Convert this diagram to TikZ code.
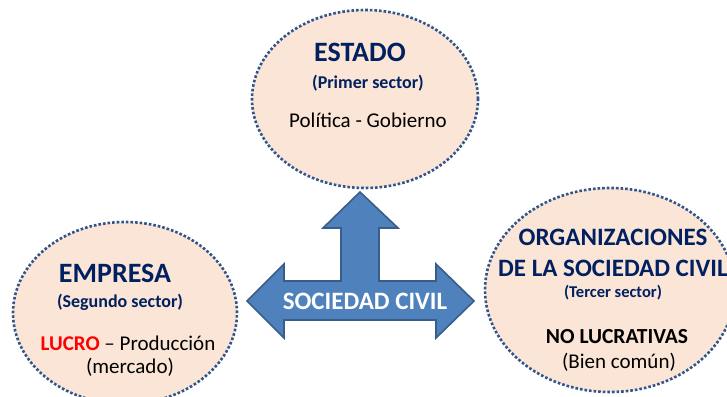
\documentclass[tikz,border=0pt]{standalone}
\usepackage{fontspec}
\setmainfont{Carlito}
\usetikzlibrary{shapes.geometric}
\definecolor{peach}{RGB}{251,229,214}
\definecolor{dotblue}{RGB}{47,85,140}
\definecolor{navy}{RGB}{0,32,96}
\definecolor{arrowfill}{RGB}{79,129,189}
\definecolor{arrowline}{RGB}{56,93,138}
\begin{document}
\begin{tikzpicture}[x=1pt,y=1pt,
  sector/.style={ellipse,draw=dotblue,fill=peach,line width=2.6pt,dash pattern=on 2.6pt off 2pt,inner sep=0pt},
  txt/.style={inner sep=0pt,anchor=center},
  fs/.style={font=\fontsize{#1}{#1}\selectfont}]
\useasboundingbox (0,0) rectangle (727,396);
\clip (0,0) rectangle (727,396);
% ellipses
\node[sector,minimum width=226pt,minimum height=178pt] (estado) at (365,297) {};
\node[sector,minimum width=224pt,minimum height=182pt] (empresa) at (125,83) {};
\node[sector,minimum width=250pt,minimum height=204pt] (osc) at (610,106) {};
% arrow
\draw[fill=arrowfill,draw=arrowline,line width=1.6pt,line join=miter]
  (360,204) -- (398,168) -- (379,168) -- (379,115) -- (436,115) -- (436,132)
  -- (474,95) -- (436,58) -- (436,76) -- (284,76) -- (284,58) -- (247,95)
  -- (284,132) -- (284,115) -- (341,115) -- (341,168) -- (323,168) -- cycle;
\node[txt,fs=25,text=white] (sc) at (365,95) {\bfseries SOCIEDAD CIVIL};
% estado text
\node[txt,fs=28,text=navy] (t1) at (360,344) {\bfseries ESTADO};
\node[txt,fs=18,text=navy] (t2) at (368,313) {\bfseries (Primer sector)};
\node[txt,fs=21] (t3) at (368,276) {Política - Gobierno};
% empresa text
\node[txt,fs=28,text=navy] (e1) at (115,123) {\bfseries EMPRESA};
\node[txt,fs=18,text=navy] (e2) at (120,94) {\bfseries (Segundo sector)};
\node[txt,fs=21] (e3) at (128,53) {\textcolor{red}{\bfseries LUCRO} – Producción};
\node[txt,fs=21] (e4) at (130,29) {(mercado)};
% osc text
\node[txt,fs=25,text=navy] (o1) at (613,159) {\bfseries ORGANIZACIONES};
\node[txt,fs=25,text=navy,anchor=west] (o2) at (498,128) {\bfseries DE LA SOCIEDAD CIVIL};
\node[txt,fs=16.5,text=navy] (o3) at (613,103) {\bfseries (Tercer sector)};
\node[txt,fs=21.5] (o4) at (617,59) {\bfseries NO LUCRATIVAS};
\node[txt,fs=21] (o5) at (619,34) {(Bien común)};
\end{tikzpicture}
\end{document}
